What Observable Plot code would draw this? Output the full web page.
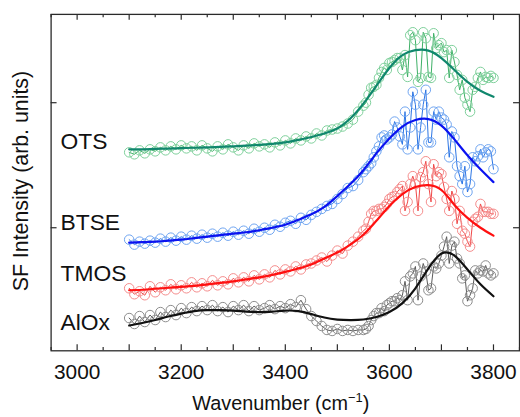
<!DOCTYPE html>
<html><head><meta charset="utf-8">
<script src="https://cdn.jsdelivr.net/npm/d3@7"></script>
<script src="https://cdn.jsdelivr.net/npm/@observablehq/plot@0.6"></script>
<style>html,body{margin:0;padding:0;overflow:hidden;background:#fff}</style>
</head><body><div id="chart"></div>
<script>
// Measured wavenumbers (cm^-1)
const wavenumber = [3100,3110,3120,3130,3140,3150,3160,3170,3180,3190,3200,3210,3220,3230,3240,3250,3260,3270,3280,3290,3300,3310,3320,3330,3340,3350,3360,3370,3380,3390,3400,3410,3420,3430,3440,3450,3460,3470,3480,3490,3500,3510,3520,3530,3540,3550,
3555,3560,3565,3570,3575,3580,3585,3590,3595,3600,3605,3610,3615,3620,3625,3630,3635,3640,3645,3650,3655,3660,3665,3670,3675,3680,3685,3690,3695,3700,3705,3710,3715,3720,3725,3730,3735,3740,3745,3750,3755,3760,3765,3770,3775,3780,3785,3790,3795,3800];

// SF intensity (arb. units, vertically offset) per sample
const ots = [202,200,204,201,205,203,207,204,208,205,209,206,208,204,209,206,203,208,205,210,207,204,209,206,211,208,210,207,212,209,214,211,216,214,218,216,221,219,224,225,226,228,231,235,243,249,
252,260,267,268,270,277,283,287,285,292,293,295,297,297,285,300,278,320,323,315,273,277,323,317,278,277,322,307,310,312,303,305,277,305,293,280,265,275,257,250,243,265,268,277,283,275,278,277,279,277];
const btse = [114,109,112,110,113,111,115,112,116,113,117,114,118,115,119,116,120,117,121,118,122,119,123,120,125,122,126,124,129,127,131,133,130,136,134,139,142,145,148,150,155,160,166,168,174,182,
185,188,191,197,203,208,217,219,215,217,220,233,227,218,210,243,205,227,263,250,205,227,250,265,212,212,243,235,243,237,235,230,197,223,217,188,178,170,188,162,170,197,193,198,205,197,202,205,203,185];
const tmos = [65,59,62,58,67,61,66,63,69,64,68,65,71,66,70,67,73,68,72,69,75,71,76,72,78,74,79,76,83,79,84,82,87,84,89,90,93,96,92,98,103,100,108,112,117,123,
125,132,140,143,143,145,145,147,150,155,157,158,162,165,168,143,152,170,178,170,143,177,182,193,170,152,190,178,182,180,167,155,143,163,155,130,143,123,120,112,107,132,135,137,150,142,142,142,140,140];
const alox = [35,29,37,31,38,33,41,36,43,38,45,40,46,42,47,43,48,42,46,41,47,43,48,42,47,43,45,48,44,47,45,49,46,53,44,37,32,27,23,22,24,22,23,22,23,23,
24,27,33,37,40,40,45,42,48,50,52,52,55,53,58,72,53,77,80,87,53,77,90,82,63,65,87,85,90,98,107,117,90,108,112,95,90,75,78,52,58,65,83,80,83,82,88,80,78,80];

// Fitted curves
const fitWavenumber = [3100,3125,3150,3175,3200,3225,3250,3275,3300,3325,3350,3375,3400,3425,3450,3475,3500,3525,3550,3575,3600,3625,3650,3675,3700,3725,3750,3775,3800];
const otsFit = [205,205,205.5,205.8,206.2,206.6,207,207.5,208,208.7,209.5,210.5,212,214.5,217.5,221,226,236,251,269,287,300,305,304.5,297,285,273,264,258];
const btseFit = [111,111.5,112,113,114,115.5,117,118.5,120,121.5,123.5,126,129,134,139.5,147,158,170,184,201,216,228,234.5,235.5,229,215,199,185,172];
const tmosFit = [63,63.5,64.5,65.5,66.5,67.5,69,70.5,72,74,76,78.5,81.5,85,89,95,101,109,119,133,148,160,167,169,164,149,136,126,118];
const aloxFit = [27.5,30,33,36.5,39.5,42,43,43,42.5,41.5,41,41.5,42.5,42,39,35.5,33.5,33,33.5,36,41,50,65,85,100,98,84,69,57];

const seriesNames = ["OTS","BTSE","TMOS","AlOx"];
const labelLevels = [205,124,72,23];
const labelWavenumber = 2968;
const xLabelTicks = [3000,3200,3400,3600,3800];
const xMajorTicks = [3000,3100,3200,3300,3400,3500,3600,3700,3800];
const xMinorTicks = [2950,3050,3150,3250,3350,3450,3550,3650,3750,3850];
const yTicks = [126,252];

const dotColors = ["#7fd09b","#6fa4f0","#f48c8c","#8c8c8c"];
const lineColors = ["#3daf66","#2a74e4","#f04848","#5a5a5a"];
const fitColors = ["#10876d","#0a12f0","#ff1010","#111111"];

const raw = [ots, btse, tmos, alox];
const fits = [otsFit, btseFit, tmosFit, aloxFit];
const points = seriesNames.map((s, i) => wavenumber.map((w, j) => ({series: s, x: w, y: raw[i][j]})));
const curves = seriesNames.map((s, i) => fitWavenumber.map((w, j) => ({series: s, x: w, y: fits[i][j]})));
const labels = seriesNames.map((s, i) => ({name: s, x: labelWavenumber, y: labelLevels[i]}));

const W = 524, H = 417, mL = 51, mR = 1, mT = 14, mB = 64;
const innerW = W - mL - mR, innerH = H - mT - mB;
const frameColor = "#2a2a2a";
const font = "'Liberation Sans', Arial, sans-serif";

const marks = [];
points.forEach((p, i) => {
  marks.push(Plot.line(p, {x: "x", y: "y", stroke: lineColors[i], strokeWidth: 1}));
  marks.push(Plot.dot(p, {x: "x", y: "y", r: 4.8, stroke: dotColors[i], strokeWidth: 1, fill: "none"}));
});
curves.forEach((c, i) => {
  marks.push(Plot.line(c, {x: "x", y: "y", stroke: fitColors[i], strokeWidth: 2.2, curve: "natural"}));
});
marks.push(
  Plot.text(labels, {x: "x", y: "y", text: "name", textAnchor: "start", lineAnchor: "bottom", fontSize: 23, fill: "#111"}),
  Plot.tickX(xMajorTicks, {x: d => d, insetTop: innerH - 6, stroke: frameColor, strokeWidth: 1.2}),
  Plot.tickX(xMajorTicks, {x: d => d, insetBottom: innerH - 6, stroke: frameColor, strokeWidth: 1.2}),
  Plot.tickX(xMinorTicks, {x: d => d, insetTop: innerH - 3.3, stroke: frameColor, strokeWidth: 1.2}),
  Plot.tickX(xMinorTicks, {x: d => d, insetBottom: innerH - 3.3, stroke: frameColor, strokeWidth: 1.2}),
  Plot.tickY(yTicks, {y: d => d, insetRight: innerW - 6, stroke: frameColor, strokeWidth: 1.2}),
  Plot.tickY(yTicks, {y: d => d, insetLeft: innerW - 6, stroke: frameColor, strokeWidth: 1.2}),
  Plot.axisX(xLabelTicks, {tickSize: 0, tickPadding: 13.6, fontSize: 21, label: null, fill: "#111", tickFormat: d => String(d)}),
  Plot.frame({stroke: frameColor, strokeWidth: 1.3})
);

const chart = Plot.plot({
  width: W, height: H,
  marginLeft: mL, marginRight: mR, marginTop: mT, marginBottom: mB,
  style: {fontFamily: font, fontSize: "21px", color: "#111", background: "#fff", overflow: "hidden"},
  x: {domain: [2950, 3850]},
  y: {domain: [2, 341], axis: null},
  marks
});
document.getElementById("chart").appendChild(chart);

const svg = d3.select(chart);
const xt = svg.append("text")
  .attr("x", 283).attr("y", 413)
  .attr("text-anchor", "middle")
  .attr("font-family", font)
  .attr("font-size", 20).attr("fill", "#111");
xt.append("tspan").text("Wavenumber (cm");
xt.append("tspan").attr("font-size", 13).attr("dy", -8).text("\u22121");
xt.append("tspan").attr("dy", 8).text(")");

svg.append("text")
  .attr("transform", "translate(28,182.5) rotate(-90)")
  .attr("text-anchor", "middle")
  .attr("font-family", font)
  .attr("font-size", 21.5).attr("fill", "#111")
  .text("SF Intensity (arb. units)");
</script>
</body></html>
